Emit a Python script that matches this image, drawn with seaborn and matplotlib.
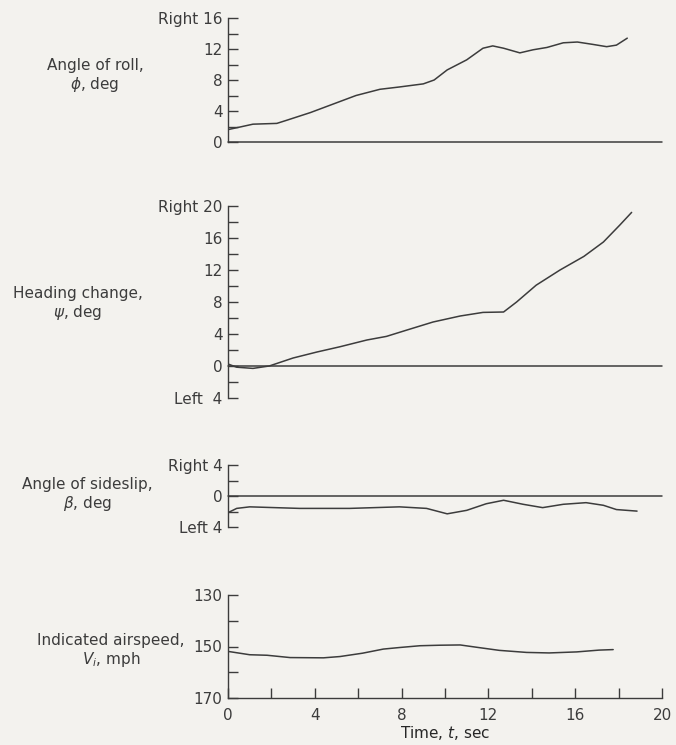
import numpy as np
import pandas as pd
import matplotlib
matplotlib.use("Agg")
import matplotlib.pyplot as plt
import seaborn as sns
from matplotlib.ticker import FixedLocator

# ---------------- data ----------------
roll_t = [0.0, 0.5, 1.15, 2.25, 2.7, 3.8, 4.85, 5.9, 7.0, 7.9, 9.0, 9.5, 10.1, 11.0,
          11.75, 12.2, 12.7, 13.45, 14.06, 14.7, 15.45, 16.1, 16.8, 17.45, 17.9, 18.4]
roll_deg = [1.6, 1.9, 2.3, 2.4, 2.8, 3.8, 4.9, 6.0, 6.8, 7.1, 7.5, 8.0, 9.3, 10.6,
            12.1, 12.4, 12.1, 11.5, 11.9, 12.2, 12.8, 12.9, 12.6, 12.3, 12.5, 13.4]

head_t = [0.0, 0.4, 1.15, 1.9, 3.0, 4.1, 5.15, 6.4, 7.3, 8.25, 9.45, 10.7, 11.75,
          12.7, 13.3, 14.2, 15.3, 16.4, 17.3, 18.05, 18.6]
head_deg = [0.25, -0.15, -0.3, 0.0, 1.0, 1.75, 2.4, 3.25, 3.7, 4.5, 5.5, 6.25, 6.7,
            6.75, 8.0, 10.1, 12.0, 13.7, 15.5, 17.6, 19.2]

slip_t = [0.0, 0.4, 1.0, 3.3, 5.6, 7.9, 9.15, 10.1, 11.0, 11.9, 12.7, 13.6, 14.5,
          15.45, 16.5, 17.3, 17.9, 18.85]
slip_deg = [-2.15, -1.6, -1.4, -1.6, -1.6, -1.4, -1.6, -2.3, -1.85, -1.0, -0.55,
            -1.07, -1.5, -1.07, -0.86, -1.2, -1.75, -1.95]

speed_t = [0.0, 1.0, 1.8, 2.86, 4.4, 5.16, 6.2, 7.16, 7.9, 8.85, 9.77, 10.7, 11.46,
           12.5, 13.76, 14.8, 16.07, 17.1, 17.75]
speed_mph = [151.9, 153.2, 153.4, 154.3, 154.4, 153.9, 152.6, 151.0, 150.4, 149.7,
             149.5, 149.4, 150.3, 151.5, 152.3, 152.5, 152.1, 151.4, 151.2]

roll_ticks = [0, 4, 8, 12, 16]
roll_labels = ["0", "4", "8", "12", "Right 16"]
head_ticks = [-4, 0, 4, 8, 12, 16, 20]
head_labels = ["Left  4", "0", "4", "8", "12", "16", "Right 20"]
slip_ticks = [-4, 0, 4]
slip_labels = ["Left 4", "0", "Right 4"]
speed_ticks = [130, 150, 170]
speed_labels = ["130", "150", "170"]
time_ticks = [0, 4, 8, 12, 16, 20]
time_labels = ["0", "4", "8", "12", "16", "20"]

ylabels = ["Angle of roll,\n$\\phi$, deg",
           "Heading change,\n$\\psi$, deg",
           "Angle of sideslip,\n$\\beta$, deg",
           "Indicated airspeed,\n$V_i$, mph"]

# ---------------- style ----------------
sns.set_theme(style="ticks")
BG = "#f3f2ee"
INK = "#3c3c3c"
plt.rcParams.update({
    "font.family": ["DejaVu Sans"],
    "mathtext.fontset": "dejavusans",
    "axes.facecolor": BG,
    "figure.facecolor": BG,
    "axes.edgecolor": INK,
    "axes.linewidth": 1.0,
    "xtick.color": INK,
    "ytick.color": INK,
    "text.color": INK,
    "font.size": 10.5,
})

W, H = 676, 745
fig = plt.figure(figsize=(W / 100, H / 100), dpi=100)


def ax_px(top, bottom, left=228, right=662):
    return fig.add_axes([left / W, 1 - bottom / H, (right - left) / W, (bottom - top) / H])


def style_axis(ax, ylim, major, labels, minor):
    ax.set_xlim(0, 20)
    ax.set_ylim(*ylim)
    for s in ["top", "right", "bottom"]:
        ax.spines[s].set_visible(False)
    ax.yaxis.set_major_locator(FixedLocator(major))
    ax.set_yticklabels(labels, fontsize=11)
    ax.yaxis.set_minor_locator(FixedLocator(minor))
    ax.tick_params(axis="y", which="both", direction="in", length=7, width=1.0, pad=4)
    ax.set_xticks([])
    ax.set_xlabel("")
    ax.set_ylabel("")


lw = 1.1
line_kw = dict(color=INK, linewidth=lw, estimator=None, legend=False)

# Panel 1 – roll
ax1 = ax_px(18, 142)
sns.lineplot(data=pd.DataFrame({"t": roll_t, "v": roll_deg}), x="t", y="v", ax=ax1, **line_kw)
ax1.axhline(0, color=INK, linewidth=lw, clip_on=False)
style_axis(ax1, (0, 16), roll_ticks, roll_labels, [2, 6, 10, 14])

# Panel 2 – heading
ax2 = ax_px(206, 398)
sns.lineplot(data=pd.DataFrame({"t": head_t, "v": head_deg}), x="t", y="v", ax=ax2, **line_kw)
ax2.axhline(0, color=INK, linewidth=lw, clip_on=False)
style_axis(ax2, (-4, 20), head_ticks, head_labels, [-2, 2, 6, 10, 14, 18])

# Panel 3 – sideslip
ax3 = ax_px(465, 527)
sns.lineplot(data=pd.DataFrame({"t": slip_t, "v": slip_deg}), x="t", y="v", ax=ax3, **line_kw)
ax3.axhline(0, color=INK, linewidth=lw, clip_on=False)
style_axis(ax3, (-4, 4), slip_ticks, slip_labels, [-2, 2])

# Panel 4 – airspeed
ax4 = ax_px(595, 698)
sns.lineplot(data=pd.DataFrame({"t": speed_t, "v": speed_mph}), x="t", y="v", ax=ax4, **line_kw)
style_axis(ax4, (170, 130), speed_ticks, speed_labels, [140, 160])
ax4.spines["bottom"].set_visible(True)
ax4.xaxis.set_major_locator(FixedLocator(time_ticks))
ax4.set_xticklabels(time_labels, fontsize=11)
ax4.xaxis.set_minor_locator(FixedLocator([2, 6, 10, 14, 18]))
ax4.tick_params(axis="x", which="both", direction="in", length=7, width=1.0, pad=7)
ax4.set_xlabel("Time, $t$, sec", fontsize=11, labelpad=1)

# y-axis descriptions (horizontal text at the left)
label_pos = [(95, 76), (78, 304), (87, 495), (111, 651)]
for (x, y), txt in zip(label_pos, ylabels):
    fig.text(x / W, 1 - y / H, txt, ha="center", va="center", fontsize=11,
             linespacing=1.15, color=INK)

fig.savefig("out.png", dpi=100, facecolor=BG)
